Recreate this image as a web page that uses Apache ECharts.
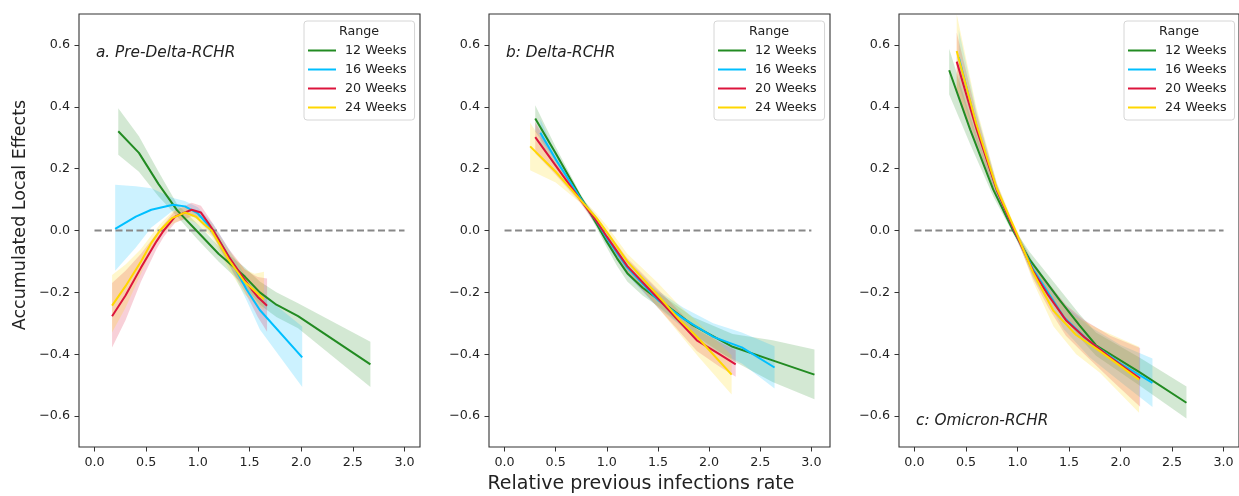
<!DOCTYPE html>
<html><head><meta charset="utf-8">
<script src="https://cdn.jsdelivr.net/npm/echarts@6/dist/echarts.min.js"></script>
<style>html,body{margin:0;padding:0;background:#fff}#c{width:1239px;height:496px}</style>
</head><body><div id="c"></div>
<script>
// ---------- data ----------
const ranges = ['12 Weeks', '16 Weeks', '20 Weeks', '24 Weeks'];
const rangeColors = ['#228B22', '#00BFFF', '#DC143C', '#FFD700'];
const xTicks = [0, 0.5, 1, 1.5, 2, 2.5, 3];
const yTicks = [-0.6, -0.4, -0.2, 0, 0.2, 0.4, 0.6];
const zeroLineX = [0, 3];
const panelLabels = ['a. Pre-Delta-RCHR', 'b: Delta-RCHR', 'c: Omicron-RCHR'];
const xTitle = 'Relative previous infections rate';
const yTitle = 'Accumulated Local Effects';
const legendTitle = 'Range';

// panel a
const aX12 = [0.23, 0.43, 0.62, 0.80, 1.00, 1.20, 1.455, 1.60, 1.76, 1.97, 2.67];
const aY12 = [0.321, 0.251, 0.15, 0.065, -0.005, -0.075, -0.149, -0.20, -0.24, -0.277, -0.433];
const aLo12 = [0.245, 0.19, 0.11, 0.045, -0.03, -0.10, -0.18, -0.24, -0.28, -0.316, -0.506];
const aHi12 = [0.395, 0.305, 0.19, 0.085, 0.02, -0.05, -0.12, -0.165, -0.20, -0.235, -0.36];
const aX16 = [0.20, 0.40, 0.55, 0.76, 0.875, 1.00, 1.15, 1.30, 1.47, 1.60, 2.01];
const aY16 = [0.005, 0.045, 0.067, 0.083, 0.078, 0.055, 0.0, -0.085, -0.19, -0.257, -0.41];
const aLo16 = [-0.13, -0.055, 0.01, 0.065, 0.06, 0.035, -0.02, -0.11, -0.225, -0.32, -0.506];
const aHi16 = [0.148, 0.143, 0.137, 0.105, 0.095, 0.075, 0.02, -0.06, -0.15, -0.20, -0.31];
const aX20 = [0.17, 0.30, 0.45, 0.60, 0.67, 0.78, 0.94, 1.03, 1.10, 1.15, 1.30, 1.455, 1.52, 1.58, 1.67];
const aY20 = [-0.277, -0.21, -0.12, -0.035, 0.0, 0.045, 0.067, 0.058, 0.025, 0.0, -0.085, -0.16, -0.19, -0.215, -0.243];
const aLo20 = [-0.378, -0.29, -0.165, -0.06, -0.02, 0.025, 0.045, 0.04, 0.005, -0.02, -0.11, -0.20, -0.24, -0.28, -0.327];
const aHi20 = [-0.17, -0.13, -0.075, -0.01, 0.02, 0.065, 0.09, 0.08, 0.045, 0.02, -0.06, -0.125, -0.14, -0.15, -0.155];
const aX24 = [0.17, 0.30, 0.45, 0.55, 0.634, 0.75, 0.875, 0.98, 1.06, 1.133, 1.30, 1.45, 1.55, 1.64];
const aY24 = [-0.243, -0.18, -0.10, -0.04, 0.0, 0.04, 0.058, 0.045, 0.02, 0.0, -0.095, -0.165, -0.195, -0.222];
const aLo24 = [-0.33, -0.25, -0.14, -0.065, -0.02, 0.02, 0.04, 0.025, 0.0, -0.02, -0.125, -0.205, -0.235, -0.257];
const aHi24 = [-0.144, -0.11, -0.06, -0.015, 0.02, 0.06, 0.08, 0.065, 0.04, 0.02, -0.065, -0.125, -0.14, -0.133];

// panel b
const bX12 = [0.30, 0.50, 0.74, 0.85, 1.00, 1.10, 1.20, 1.35, 1.50, 1.84, 2.23, 2.62, 3.03];
const bY12 = [0.362, 0.25, 0.11, 0.05, -0.036, -0.09, -0.138, -0.185, -0.222, -0.306, -0.376, -0.42, -0.466];
const bLo12 = [0.32, 0.225, 0.10, 0.04, -0.055, -0.115, -0.165, -0.21, -0.245, -0.335, -0.42, -0.49, -0.546];
const bHi12 = [0.405, 0.27, 0.12, 0.06, -0.02, -0.07, -0.115, -0.16, -0.20, -0.28, -0.335, -0.355, -0.385];
const bX16 = [0.35, 0.50, 0.74, 0.90, 1.00, 1.20, 1.50, 1.75, 2.04, 2.32, 2.64];
const bY16 = [0.316, 0.23, 0.105, 0.03, -0.025, -0.12, -0.225, -0.285, -0.344, -0.378, -0.443];
const bLo16 = [0.28, 0.21, 0.095, 0.015, -0.045, -0.145, -0.25, -0.315, -0.385, -0.43, -0.511];
const bHi16 = [0.36, 0.25, 0.115, 0.045, -0.005, -0.095, -0.195, -0.25, -0.30, -0.33, -0.374];
const bX20 = [0.30, 0.50, 0.74, 0.90, 1.00, 1.20, 1.50, 1.88, 2.10, 2.26];
const bY20 = [0.302, 0.21, 0.10, 0.03, -0.02, -0.115, -0.22, -0.355, -0.40, -0.433];
const bLo20 = [0.25, 0.18, 0.09, 0.015, -0.04, -0.14, -0.25, -0.39, -0.44, -0.473];
const bHi20 = [0.35, 0.235, 0.11, 0.045, 0.0, -0.09, -0.19, -0.32, -0.36, -0.387];
const bX24 = [0.25, 0.50, 0.74, 0.90, 1.00, 1.20, 1.50, 1.70, 1.90, 2.22];
const bY24 = [0.272, 0.19, 0.10, 0.04, -0.005, -0.10, -0.21, -0.285, -0.35, -0.466];
const bLo24 = [0.195, 0.155, 0.09, 0.025, -0.025, -0.13, -0.25, -0.33, -0.41, -0.53];
const bHi24 = [0.348, 0.225, 0.11, 0.055, 0.015, -0.075, -0.17, -0.24, -0.30, -0.403];

// panel c
const cX12 = [0.337, 0.54, 0.765, 0.957, 1.12, 1.408, 1.60, 1.762, 2.18, 2.64];
const cY12 = [0.518, 0.327, 0.132, 0.0, -0.095, -0.224, -0.306, -0.371, -0.457, -0.557];
const cLo12 = [0.44, 0.28, 0.11, -0.01, -0.115, -0.26, -0.345, -0.405, -0.50, -0.608];
const cHi12 = [0.588, 0.37, 0.155, 0.01, -0.07, -0.19, -0.27, -0.33, -0.41, -0.504];
const cX16 = [0.43, 0.60, 0.80, 0.97, 1.15, 1.45, 1.70, 2.00, 2.31];
const cY16 = [0.56, 0.34, 0.13, 0.0, -0.125, -0.28, -0.36, -0.43, -0.493];
const cLo16 = [0.47, 0.29, 0.11, -0.01, -0.15, -0.32, -0.41, -0.49, -0.571];
const cHi16 = [0.65, 0.39, 0.15, 0.01, -0.10, -0.24, -0.31, -0.37, -0.414];
const cX20 = [0.41, 0.60, 0.80, 0.97, 1.15, 1.30, 1.47, 1.65, 1.90, 2.19];
const cY20 = [0.546, 0.33, 0.13, 0.0, -0.13, -0.21, -0.29, -0.345, -0.41, -0.479];
const cLo20 = [0.45, 0.28, 0.11, -0.01, -0.155, -0.25, -0.34, -0.40, -0.48, -0.57];
const cHi20 = [0.64, 0.38, 0.15, 0.01, -0.105, -0.17, -0.24, -0.29, -0.34, -0.38];
const cX24 = [0.41, 0.60, 0.80, 0.98, 1.15, 1.35, 1.57, 1.80, 2.18];
const cY24 = [0.58, 0.345, 0.135, 0.0, -0.135, -0.26, -0.338, -0.39, -0.482];
const cLo24 = [0.46, 0.29, 0.115, -0.01, -0.165, -0.31, -0.40, -0.46, -0.589];
const cHi24 = [0.70, 0.40, 0.155, 0.01, -0.105, -0.21, -0.28, -0.32, -0.376];

// ---------- build ----------
const panels = [
  [[aX12, aY12, aLo12, aHi12], [aX16, aY16, aLo16, aHi16], [aX20, aY20, aLo20, aHi20], [aX24, aY24, aLo24, aHi24]],
  [[bX12, bY12, bLo12, bHi12], [bX16, bY16, bLo16, bHi16], [bX20, bY20, bLo20, bHi20], [bX24, bY24, bLo24, bHi24]],
  [[cX12, cY12, cLo12, cHi12], [cX16, cY16, cLo16, cHi16], [cX20, cY20, cLo20, cHi20], [cX24, cY24, cLo24, cHi24]]
];

const FONT = 'DejaVu Sans';
const gridLefts = [79, 489, 899];
const gridW = 341;
const xRanges = [[-0.15, 3.15], [-0.152, 3.182], [-0.15, 3.15]];
const legendLefts = [304, 714, 1124];
const fmtNum = v => (v < -1e-9 ? '\u2212' : '') + Math.abs(v).toFixed(1);

const grid = [], xAxis = [], yAxis = [], series = [], legend = [], graphic = [];

panels.forEach((panel, gi) => {
  grid.push({left: gridLefts[gi], top: 14, width: gridW, height: 433, show: true,
    borderColor: '#333', borderWidth: 1.1, backgroundColor: 'transparent'});
  xAxis.push({type: 'value', gridIndex: gi, min: xRanges[gi][0], max: xRanges[gi][1], position: 'bottom',
    axisLine: {show: false, onZero: false},
    axisTick: {show: true, length: 4.5, customValues: xTicks, lineStyle: {color: '#333', width: 1}},
    axisLabel: {customValues: xTicks, formatter: fmtNum, color: '#222', fontSize: 12.7, fontFamily: FONT, margin: 9},
    splitLine: {show: false}});
  yAxis.push({type: 'value', gridIndex: gi, min: -0.7, max: 0.7, position: 'left',
    axisLine: {show: false, onZero: false},
    axisTick: {show: true, length: 4.5, customValues: yTicks, lineStyle: {color: '#333', width: 1}},
    axisLabel: {customValues: yTicks, formatter: fmtNum, color: '#222', fontSize: 12.7, fontFamily: FONT, margin: 9},
    splitLine: {show: false}});

  // zero reference line
  series.push({type: 'line', name: 'zero' + gi, xAxisIndex: gi, yAxisIndex: gi,
    data: zeroLineX.map(x => [x, 0]), symbol: 'none', silent: true, z: 2,
    lineStyle: {color: '#888888', width: 1.8, type: [7, 3.5]}});

  panel.forEach((d, ri) => {
    const [xs, ys, lo, hi] = d;
    const color = rangeColors[ri];
    series.push({type: 'custom', name: ranges[ri] + ' band ' + gi, xAxisIndex: gi, yAxisIndex: gi,
      data: xs.map((x, i) => [x, lo[i], hi[i]]), encode: {x: 0, y: [1, 2]}, clip: true, silent: true, z: 1,
      renderItem: function (params, api) {
        if (params.dataIndex !== 0) return null;
        const pts = [];
        for (let i = 0; i < xs.length; i++) pts.push(api.coord([xs[i], hi[i]]));
        for (let i = xs.length - 1; i >= 0; i--) pts.push(api.coord([xs[i], lo[i]]));
        return {type: 'polygon', shape: {points: pts}, style: {fill: color, opacity: 0.2}};
      }});
    series.push({type: 'line', name: ranges[ri], xAxisIndex: gi, yAxisIndex: gi,
      data: xs.map((x, i) => [x, ys[i]]), symbol: 'none', z: 3 + ri,
      lineStyle: {color: color, width: 2}, itemStyle: {color: color}});
  });

  legend.push({left: legendLefts[gi], top: 21, orient: 'vertical', data: ranges, selectedMode: false,
    icon: 'rect', itemWidth: 28, itemHeight: 2, itemGap: 4, padding: [22, 8, 5, 4],
    borderColor: '#d6d6d6', borderWidth: 1, borderRadius: 3, backgroundColor: 'rgba(255,255,255,0.85)',
    textStyle: {fontFamily: FONT, fontSize: 12.7, color: '#222', lineHeight: 15, padding: [0, 0, 0, 4]}});
  graphic.push({type: 'text', x: legendLefts[gi] + 55, y: 32, z: 100,
    style: {text: legendTitle, textAlign: 'center', textVerticalAlign: 'middle',
      font: '12.7px "DejaVu Sans"', fill: '#222'}});
});

// panel annotations
const labelPos = [[96, 53], [506, 53], [916, 421]];
panelLabels.forEach((t, i) => {
  graphic.push({type: 'text', x: labelPos[i][0], y: labelPos[i][1], z: 100,
    style: {text: t, textAlign: 'left', textVerticalAlign: 'middle',
      font: 'italic 15.3px "DejaVu Sans"', fill: '#222'}});
});
// figure axis titles
graphic.push({type: 'text', x: 641, y: 484, z: 100,
  style: {text: xTitle, textAlign: 'center', textVerticalAlign: 'middle', font: '19px "DejaVu Sans"', fill: '#222'}});
graphic.push({type: 'text', x: 20, y: 215, rotation: Math.PI / 2, z: 100,
  style: {text: yTitle, textAlign: 'center', textVerticalAlign: 'middle', font: '17.5px "DejaVu Sans"', fill: '#222'}});

const chart = echarts.init(document.getElementById('c'), null, {renderer: 'canvas'});
chart.setOption({animation: false, backgroundColor: '#fff', grid, xAxis, yAxis, series, legend, graphic});
</script>
</body></html>
